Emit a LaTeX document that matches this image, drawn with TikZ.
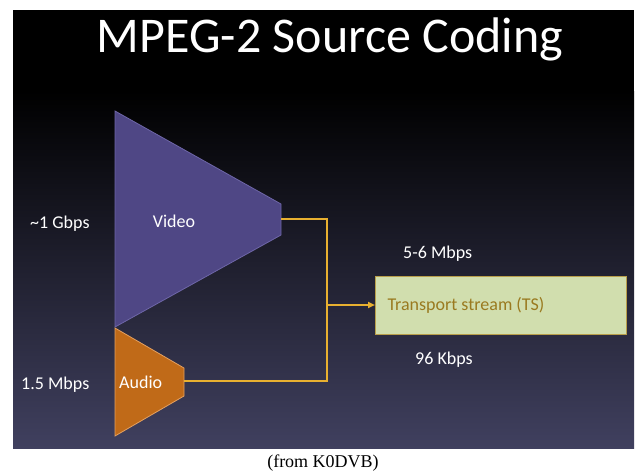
\documentclass[tikz,border=0pt]{standalone}
\usepackage{fontspec}
\setmainfont{Carlito}
\newfontfamily\captionfont{Liberation Serif}
\usetikzlibrary{arrows.meta}
\definecolor{slidebot}{HTML}{40405F}
\definecolor{videofill}{HTML}{4F4785}
\definecolor{videoedge}{HTML}{6E66A8}
\definecolor{audiofill}{HTML}{C06A18}
\definecolor{audioedge}{HTML}{E4A060}
\definecolor{feedcol}{HTML}{E8B030}
\definecolor{tsfill}{HTML}{D1DEAE}
\definecolor{tsedge}{HTML}{B89E4A}
\definecolor{tstext}{HTML}{9A7A20}
\tikzset{
  lbl/.style={text=white, font=\fontsize{18}{20}\selectfont, inner sep=0pt},
  feed/.style={draw=feedcol, line width=1.8pt},
  tsbox/.style={draw=tsedge, fill=tsfill, line width=1pt, text=tstext,
    font=\fontsize{18}{20}\selectfont, align=flush left, text width=227pt,
    inner xsep=12pt, minimum height=58pt},
}
\begin{document}
\begin{tikzpicture}[x=1pt,y=-1pt]
\useasboundingbox (0,0) rectangle (635,474);
\fill[white] (0,0) rectangle (635,474);
% slide background
\fill[black] (13,10) rectangle (634,92);
\shade[top color=black, bottom color=slidebot] (13,91) rectangle (634,448);
% title
\node[text=white, font=\fontsize{50}{56}\selectfont, inner sep=0pt, anchor=base]
  (title) at (330,52) {MPEG-2 Source Coding};
% encoders
\filldraw[fill=videofill, draw=videoedge, line width=0.8pt]
  (115,111) -- (281,204) -- (281,235) -- (115,327) -- cycle;
\filldraw[fill=audiofill, draw=audioedge, line width=0.8pt]
  (115,328) -- (184,368) -- (184,396) -- (115,436) -- cycle;
\coordinate (vout) at (281,219);
\coordinate (aout) at (184,381);
\coordinate (join) at (327,305);
% transport stream
\node[tsbox, anchor=west] (ts) at (375,305) {Transport stream (TS)};
% connectors
\draw[feed] (vout) -| (join);
\draw[feed] (aout) -| (join);
\draw[feed, -{Triangle[length=7pt,width=6pt]}] (join) -- (ts.west);
% labels
\node[lbl, anchor=base west] (vrate) at (30,228) {\textasciitilde 1 Gbps};
\node[lbl] (vname) at (174,221) {Video};
\node[lbl, anchor=base west] (arate) at (21,389) {1.5 Mbps};
\node[lbl, anchor=base west] (aname) at (119,388) {Audio};
\node[lbl, anchor=base west] (tsrate) at (403,258) {5-6 Mbps};
\node[lbl, anchor=base west] (arate2) at (415,364) {96 Kbps};
% credit line
\node[font=\captionfont\fontsize{18}{20}\selectfont, inner sep=0pt, anchor=base]
  (credit) at (323,467) {(from K0DVB)};
\end{tikzpicture}
\end{document}
